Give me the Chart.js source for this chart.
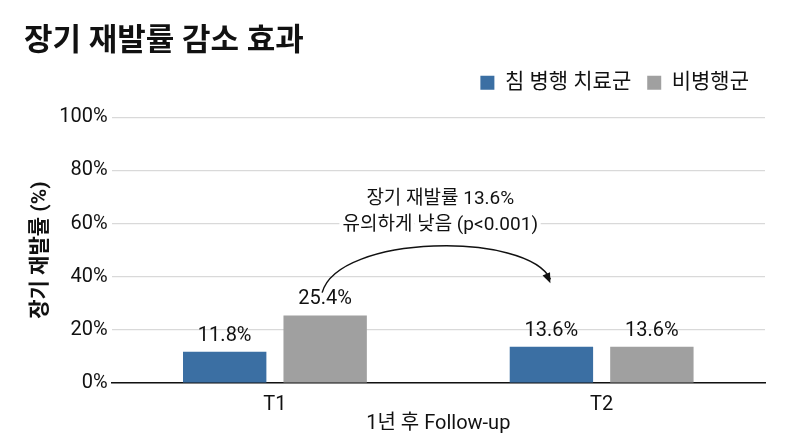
<!DOCTYPE html>
<html>
<head>
<meta charset="utf-8">
<script src="https://cdn.jsdelivr.net/npm/chart.js@4"></script>
<style>
  html, body { margin: 0; padding: 0; background: #fff; }
  #wrap { width: 800px; height: 447px; }
</style>
</head>
<body>
<div id="wrap"><canvas id="relapseChart"></canvas></div>
<script>
// 데이터
const categories = ['T1', 'T2'];
const seriesNames = ['침 병행 치료군', '비병행군'];
const acupunctureValues = [11.8, 13.6];
const controlValues = [25.4, 13.6];
const yTicks = [0, 20, 40, 60, 80, 100];
const noteLines = ['장기 재발률 13.6%', '유의하게 낮음 (p<0.001)'];

const FONT = "'Roboto', 'Noto Sans CJK KR', sans-serif";

// 범례 아래 여백 추가
const legendGap = {
    id: 'legendGap',
    beforeInit(chart) {
        const fit = chart.legend.fit;
        chart.legend.fit = function () {
            fit.bind(chart.legend)();
            this.height += 14;
        };
    }
};

// 막대 위 값 표시
const valueLabels = {
    id: 'valueLabels',
    afterDatasetsDraw(chart) {
        const ctx = chart.ctx;
        ctx.save();
        ctx.fillStyle = '#111';
        ctx.font = "20px " + FONT;
        ctx.textAlign = 'center';
        ctx.textBaseline = 'bottom';
        chart.data.datasets.forEach((ds, i) => {
            chart.getDatasetMeta(i).data.forEach((bar, j) => {
                ctx.fillText(ds.data[j].toFixed(1) + '%', bar.x, bar.y - 6);
            });
        });
        ctx.restore();
    }
};

// 곡선 화살표 + 설명
const arrowNote = {
    id: 'arrowNote',
    afterDraw(chart) {
        const ctx = chart.ctx;
        const y = chart.scales.y;
        const from = chart.getDatasetMeta(1).data[0];
        const to = chart.getDatasetMeta(0).data[1];
        const x0 = from.x - 3, y0 = y.getPixelForValue(34);
        const x3 = to.x - 1, y3 = y.getPixelForValue(37.5);
        const w = x3 - x0;
        const x1 = x0 + w * 0.07, y1 = y.getPixelForValue(56);
        const x2 = x0 + w * 0.9, y2 = y.getPixelForValue(57);
        ctx.save();
        ctx.strokeStyle = '#111';
        ctx.lineWidth = 1.5;
        ctx.beginPath();
        ctx.moveTo(x0, y0);
        ctx.bezierCurveTo(x1, y1, x2, y2, x3, y3 - 4);
        ctx.stroke();
        // 화살촉
        const ang = Math.atan2(y3 - y2, x3 - x2);
        ctx.fillStyle = '#111';
        ctx.beginPath();
        ctx.moveTo(x3, y3);
        ctx.lineTo(x3 - 11 * Math.cos(ang - 0.38), y3 - 11 * Math.sin(ang - 0.38));
        ctx.lineTo(x3 - 11 * Math.cos(ang + 0.38), y3 - 11 * Math.sin(ang + 0.38));
        ctx.closePath();
        ctx.fill();

        ctx.font = "19px " + FONT;
        ctx.textAlign = 'center';
        ctx.textBaseline = 'middle';
        const tx = (x0 + x3) / 2 + 4;
        const ty = y.getPixelForValue(69);
        ctx.lineWidth = 8;
        ctx.strokeStyle = '#fff';
        noteLines.forEach((t, i) => {
            ctx.strokeText(t, tx, ty + i * 26);
        });
        noteLines.forEach((t, i) => {
            ctx.fillText(t, tx, ty + i * 26);
        });
        ctx.restore();
    }
};

function createRelapseChart() {
    const ctx = document.getElementById('relapseChart').getContext('2d');
    new Chart(ctx, {
        type: 'bar',
        data: {
            labels: categories,
            datasets: [{
                label: seriesNames[0],
                data: acupunctureValues,
                backgroundColor: '#3b6fa3'
            }, {
                label: seriesNames[1],
                data: controlValues,
                backgroundColor: '#a0a0a0'
            }]
        },
        options: {
            responsive: true,
            maintainAspectRatio: false,
            animation: false,
            categoryPercentage: 0.615,
            barPercentage: 0.83,
            layout: { padding: { left: 24, right: 35, top: 8, bottom: 11 } },
            plugins: {
                title: {
                    display: true,
                    text: '장기 재발률 감소 효과',
                    align: 'start',
                    color: '#111',
                    font: { family: FONT, size: 31, weight: 'bold' },
                    padding: { top: 16, bottom: -5 }
                },
                legend: {
                    position: 'top',
                    align: 'end',
                    labels: {
                        color: '#111',
                        font: { family: FONT, size: 21 },
                        boxWidth: 14,
                        boxHeight: 14,
                        padding: 16
                    }
                },
                tooltip: { enabled: false }
            },
            scales: {
                x: {
                    grid: { display: false },
                    border: { color: '#111', width: 1.5 },
                    ticks: { color: '#111', font: { family: FONT, size: 20 }, padding: 2 },
                    title: {
                        display: true,
                        text: '1년 후 Follow-up',
                        color: '#111',
                        font: { family: FONT, size: 20 },
                        padding: { top: -7, bottom: 0 }
                    }
                },
                y: {
                    min: 0,
                    max: 100,
                    afterBuildTicks(axis) {
                        axis.ticks = yTicks.map(v => ({ value: v }));
                    },
                    grid: { color: '#d9d9d9', drawTicks: false, lineWidth: 1.2 },
                    border: { display: false },
                    ticks: {
                        color: '#111',
                        font: { family: FONT, size: 20 },
                        padding: 4,
                        callback: v => v + '%'
                    },
                    title: {
                        display: true,
                        text: '장기 재발률 (%)',
                        color: '#111',
                        font: { family: FONT, size: 21, weight: 'bold' },
                        padding: { bottom: 2 }
                    }
                }
            }
        },
        plugins: [legendGap, valueLabels, arrowNote]
    });
}

createRelapseChart();
</script>
</body>
</html>
